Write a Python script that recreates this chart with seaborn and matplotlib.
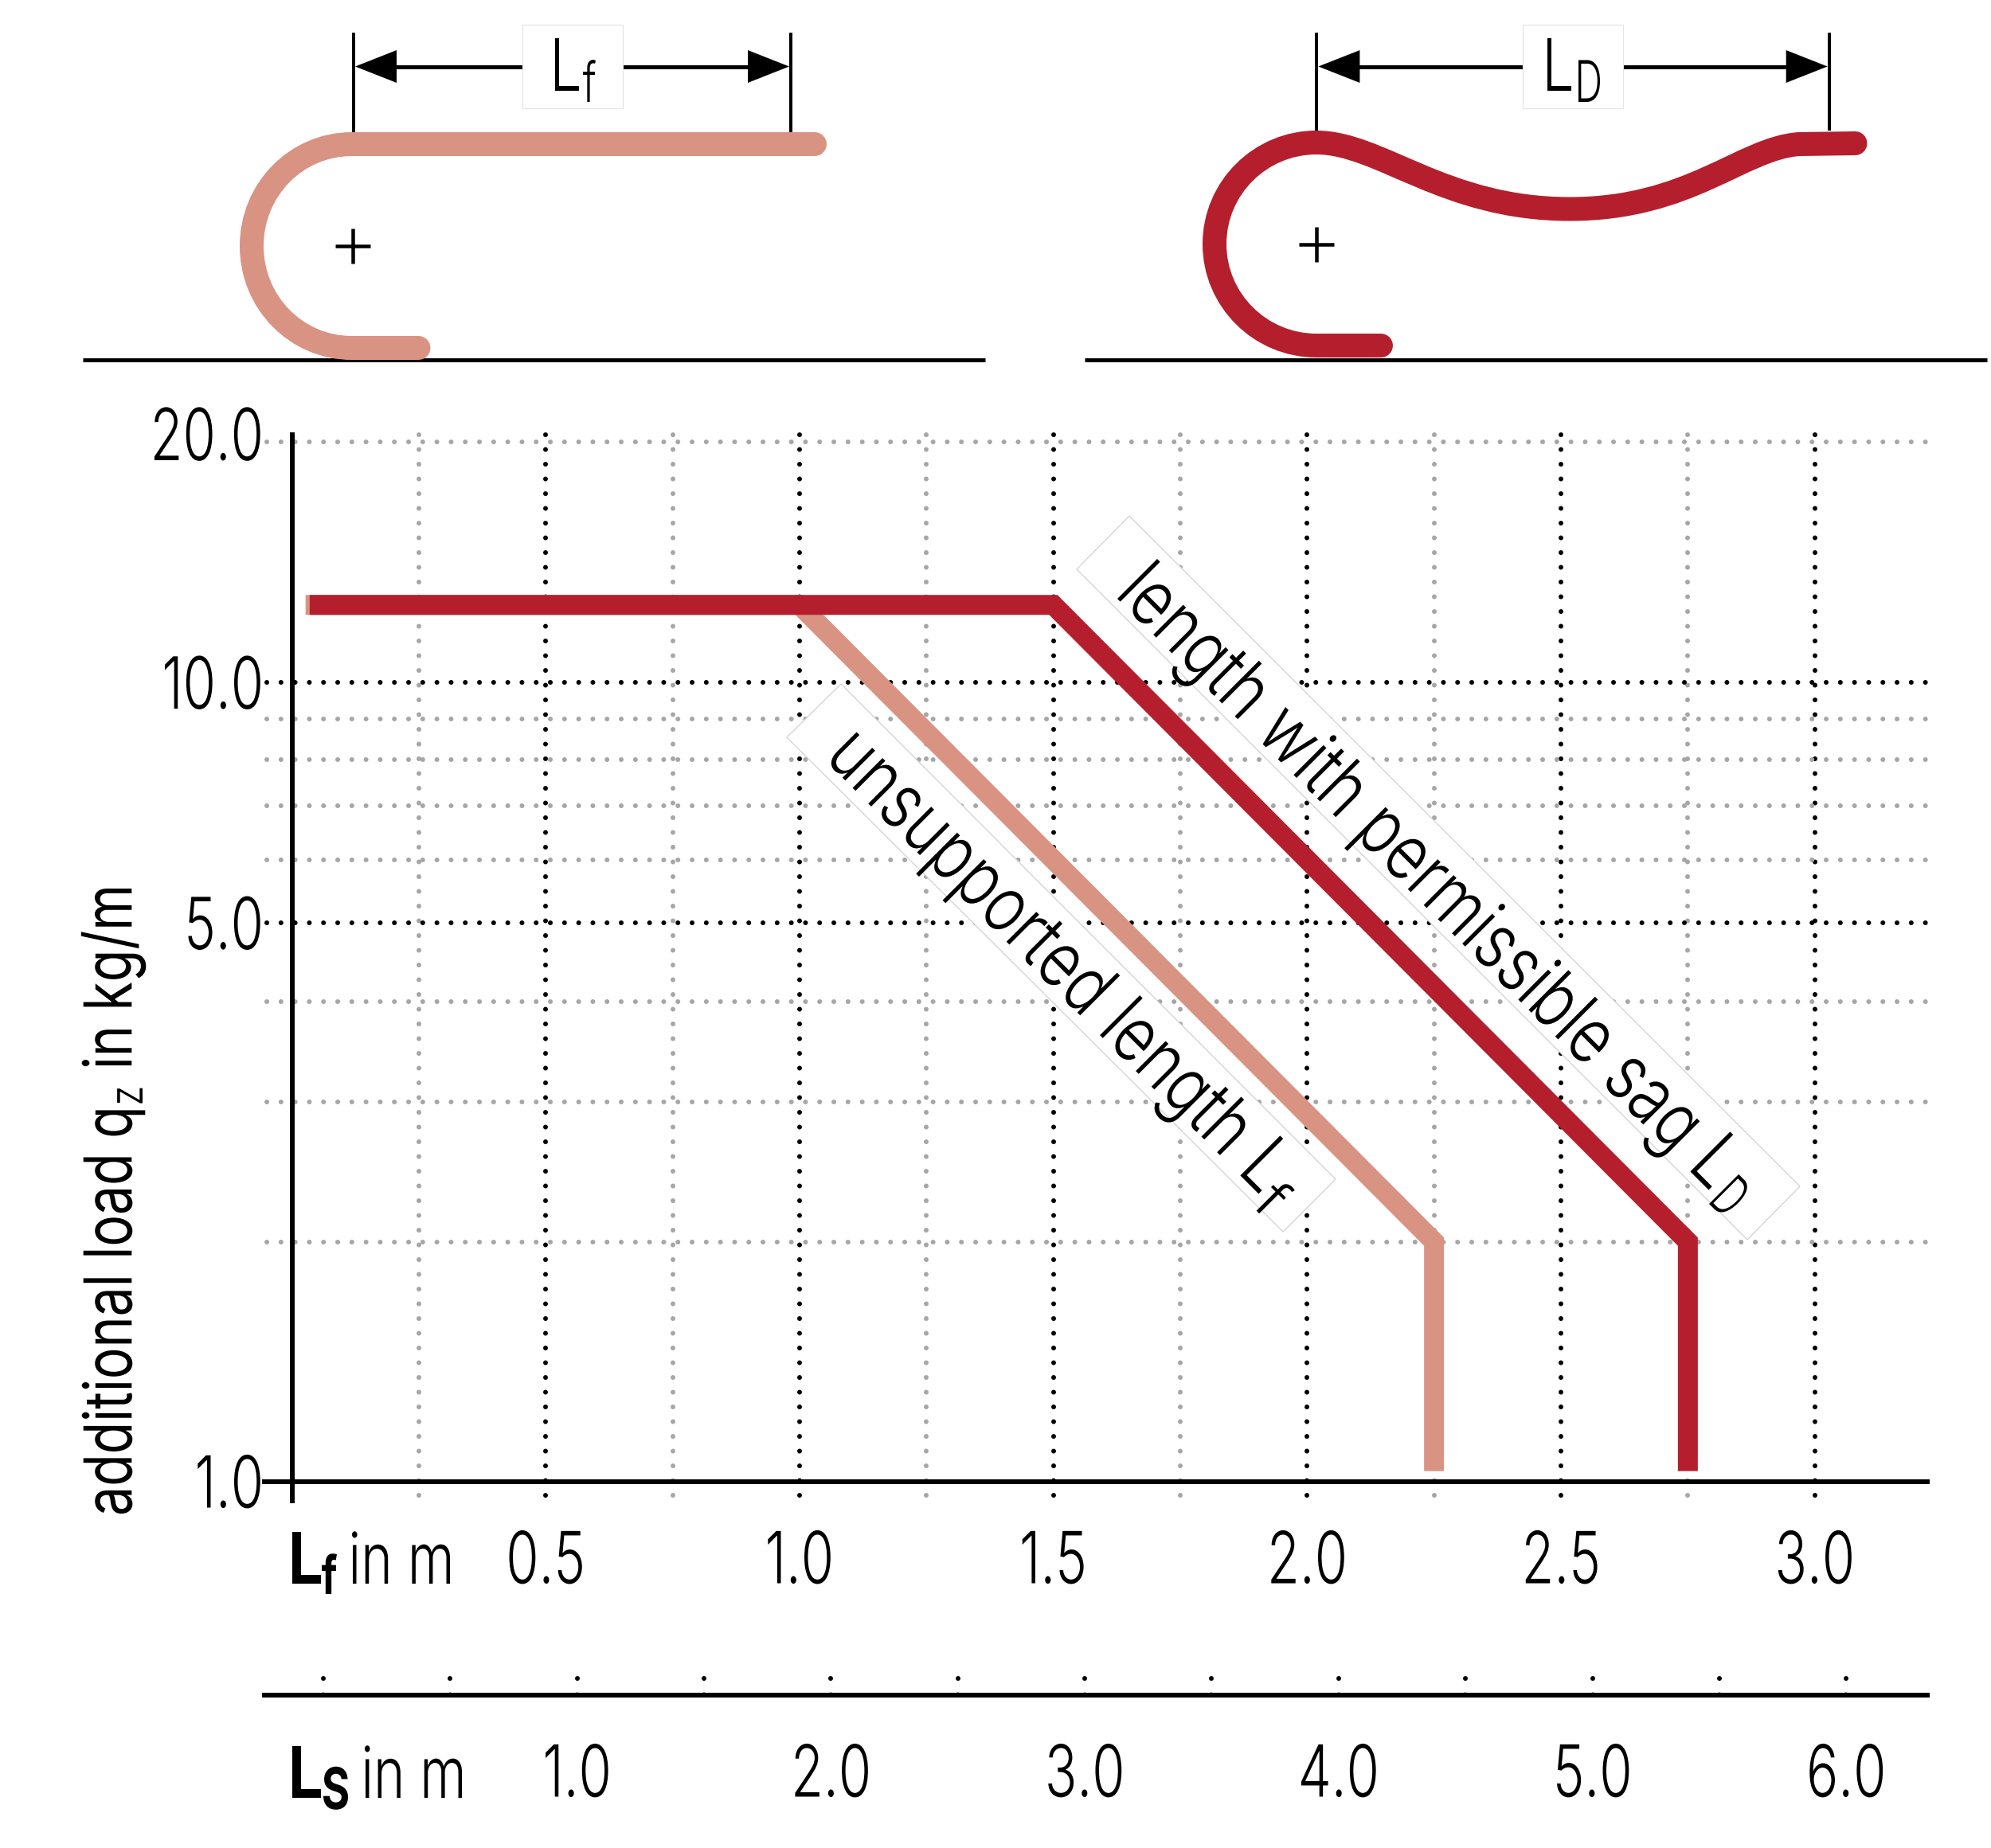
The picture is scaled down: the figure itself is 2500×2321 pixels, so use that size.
import math
import matplotlib
matplotlib.use("Agg")
import matplotlib.pyplot as plt
from matplotlib.patches import PathPatch, Polygon, Rectangle
from matplotlib.path import Path
from matplotlib.patheffects import AbstractPathEffect
from matplotlib.transforms import Affine2D, ScaledTranslation
import pandas as pd
import seaborn as sns

# ---------- chart data ----------
lf_x = [0.027, 1.0, 2.25, 2.25]
lf_y = [12.5, 12.5, 1.995, 1.03]
ld_x = [0.035, 1.5, 2.75, 2.75]
ld_y = [12.5, 12.5, 1.995, 1.03]
y_ticks = [1, 5, 10, 20]
y_tick_labels = ["1.0", "5.0", "10.0", "20.0"]
x_ticks = [0.5, 1.0, 1.5, 2.0, 2.5, 3.0]
x_tick_labels = ["0.5", "1.0", "1.5", "2.0", "2.5", "3.0"]
x_grid_major = [0.5, 1.0, 1.5, 2.0, 2.5, 3.0]
x_grid_minor = [0.25, 0.75, 1.25, 1.75, 2.25, 2.75]
y_grid_major = [10, 5]
y_grid_minor = [20, 9, 8, 7, 6, 3.985, 2.985, 1.995]
ls_ticks = [1.0, 2.0, 3.0, 4.0, 5.0, 6.0]
ls_tick_labels = ["1.0", "2.0", "3.0", "4.0", "5.0", "6.0"]
ls_dots = [0.0, 0.5, 1.0, 1.5, 2.0, 2.5, 3.0, 3.5, 4.0, 4.5, 5.0, 5.5, 6.0]

LIGHT = "#D99383"
DARK = "#B51F2D"
GREY = "#A6A6A6"

W, H, DPI = 2500, 2321, 100
def px(v):
    return v * 72 / DPI

# ---------- squeezed text (installed fonts have no condensed cut) ----------
class Squeeze(AbstractPathEffect):
    def __init__(self, sx=None, width=None, origin=0.0, shift=0.0):
        super().__init__()
        self.sx, self.width, self.origin, self.shift = sx, width, origin, shift

    def draw_path(self, renderer, gc, tpath, affine, rgbFace=None):
        if len(tpath.vertices) == 0:
            return
        ext = tpath.get_extents()
        m = affine.get_matrix()
        scale = math.hypot(m[0, 0], m[1, 0])
        sx = self.sx if self.sx else self.width / (ext.width * scale)
        if self.origin == 0:
            t = Affine2D().translate(-ext.x0, 0).scale(sx, 1)
        else:
            ox = ext.x1 if self.origin == 1 else (ext.x0 + ext.x1) / 2
            t = Affine2D().translate(-ox, 0).scale(sx, 1).translate(ox, 0)
        t = t.translate(self.shift / scale, 0) + affine
        renderer.draw_path(gc, tpath, t, rgbFace)

sns.set_theme(style="white", rc={"axes.facecolor": "none", "figure.facecolor": "white"})
plt.rcParams["font.family"] = ["Inter", "DejaVu Sans"]
plt.rcParams["font.weight"] = 300
plt.rcParams["mathtext.fontset"] = "custom"
plt.rcParams["mathtext.rm"] = "Inter:weight=300"
plt.rcParams["mathtext.default"] = "rm"

fig = plt.figure(figsize=(W / DPI, H / DPI), dpi=DPI)

def axes_px(x0, x1, y_top, y_bot, **kw):
    return fig.add_axes([x0 / W, 1 - y_bot / H, (x1 - x0) / W, (y_bot - y_top) / H], **kw)

# pixel-space layer for the sketches and free labels
over = axes_px(0, W, 0, H, zorder=5)
over.set_xlim(0, W)
over.set_ylim(H, 0)
over.axis("off")

# ---------- main chart ----------
X0_PX, X_PER_UNIT = 366.5, 637.4
Y1_PX, DECADE_PX = 1860.5, 1003.5
L, R, T, B = 335, 2421, 546, 1885
ax = axes_px(L, R, T, B, zorder=2)
ax.set_yscale("log")
ax.set_xlim((L - X0_PX) / X_PER_UNIT, (R - X0_PX) / X_PER_UNIT)
ax.set_ylim(10 ** ((Y1_PX - B) / DECADE_PX), 10 ** ((Y1_PX - T) / DECADE_PX))

def dotted(a, xs, ys, color, size, gap):
    a.plot(xs, ys, color=color, lw=px(size), linestyle=(0, (0.01, gap / size - 0.01)),
           dash_capstyle="round", clip_on=False, zorder=1)

ymin, ymax = ax.get_ylim()
xmin, xmax = ax.get_xlim()
for v in x_grid_minor:
    dotted(ax, [v, v], [ymax, ymin], GREY, 6, 18.5)
for v in x_grid_major:
    dotted(ax, [v, v], [ymax, ymin], "black", 6, 18.5)
for v in y_grid_minor:
    dotted(ax, [xmin, xmax], [v, v], GREY, 6, 17.8)
for v in y_grid_major:
    dotted(ax, [xmin, xmax], [v, v], "black", 6, 17.8)

# white label boxes, between grid and curves
box_edge = "#D0D0D0"
for corners in ([(1418, 648), (1352, 715), (2194, 1557), (2260, 1490)],
                [(1056, 859), (988, 926), (1611, 1547), (1677, 1481)]):
    ax.add_patch(Polygon(corners, closed=True, facecolor="white", edgecolor=box_edge,
                         lw=px(1.2), transform=over.transData, clip_on=False, zorder=2))

curves = pd.DataFrame({"x": lf_x, "y": lf_y})
sns.lineplot(data=curves, x="x", y="y", sort=False, estimator=None, ax=ax, color=LIGHT,
             lw=px(25), solid_capstyle="butt", solid_joinstyle="miter", zorder=3)
curves = pd.DataFrame({"x": ld_x, "y": ld_y})
sns.lineplot(data=curves, x="x", y="y", sort=False, estimator=None, ax=ax, color=DARK,
             lw=px(25), solid_capstyle="butt", solid_joinstyle="miter", zorder=4)

for s in ("top", "right"):
    ax.spines[s].set_visible(False)
ax.spines["left"].set_position(("data", 0))
ax.spines["bottom"].set_position(("data", 1))
for s in ("left", "bottom"):
    ax.spines[s].set_linewidth(px(6))
    ax.spines[s].set_color("black")
    ax.spines[s].set_zorder(6)
ax.spines["bottom"].set_bounds((332 - X0_PX) / X_PER_UNIT, (2420 - X0_PX) / X_PER_UNIT)

TICK_SIZE = 65
TICK_SQUEEZE = 0.74
ax.set_xticks(x_ticks, x_tick_labels)
ax.set_yticks(y_ticks, y_tick_labels)
ax.minorticks_off()
ax.tick_params(axis="x", length=0, pad=px(62), labelsize=TICK_SIZE, labelcolor="black")
ax.tick_params(axis="y", length=0, pad=px(34), labelsize=TICK_SIZE, labelcolor="black")
ax.tick_params(which="minor", length=0)
for lab in ax.get_xticklabels():
    lab.set_path_effects([Squeeze(sx=TICK_SQUEEZE, origin=0.5)])
for lab in ax.get_yticklabels():
    lab.set_path_effects([Squeeze(sx=TICK_SQUEEZE, origin=1)])
    if lab.get_text() == "20.0":
        lab.set_transform(lab.get_transform() + ScaledTranslation(0, 10 / DPI, fig.dpi_scale_trans))

ax.set_xlabel("")
ax.set_ylabel(r"additional load q$_{\mathrm{z}}$ in kg/m", fontsize=60, color="black",
              ha="left", va="baseline", rotation=90, rotation_mode="anchor",
              path_effects=[Squeeze(width=785)])
ax.yaxis.set_label_coords(166, 1901, transform=over.transData)

# ---------- second length scale ----------
LS0_PX, LS_PER_UNIT = 406.0, 318.7
ax2 = axes_px(332, 2420, 2108, 2149, zorder=2)
ax2.set_xlim((332 - LS0_PX) / LS_PER_UNIT, (2420 - LS0_PX) / LS_PER_UNIT)
ax2.set_ylim(0, 1)
for v in ls_dots:
    dotted(ax2, [v, v], [1, 0], "black", 6, 20.5)
for s in ("top", "right", "left"):
    ax2.spines[s].set_visible(False)
ax2.spines["bottom"].set_position(("axes", 0.5))
ax2.spines["bottom"].set_linewidth(px(6))
ax2.spines["bottom"].set_color("black")
ax2.spines["bottom"].set_zorder(6)
ax2.set_yticks([])
ax2.set_xticks(ls_ticks, ls_tick_labels)
ax2.tick_params(axis="x", length=0, pad=px(62), labelsize=TICK_SIZE, labelcolor="black")
for lab in ax2.get_xticklabels():
    lab.set_path_effects([Squeeze(sx=TICK_SQUEEZE, origin=0.5)])

# ---------- free text ----------
def label(x, y, s, size, width, weight=300, rotation=0, ha="left", shift=0.0):
    over.text(x, y, s, fontsize=size, weight=weight, color="black", ha=ha, va="baseline",
              rotation=rotation, rotation_mode="anchor", zorder=4,
              path_effects=[Squeeze(width=width, origin=1 if ha == "right" else 0, shift=shift)])

label(402, 1989, "L", 64, 36, weight=700, ha="right", shift=4)
label(404, 2002, "f", 48, 19, weight=700)
label(442, 1989, "in m", 64, 123)
label(402, 2258, "L", 64, 36, weight=700, ha="right", shift=4)
label(406, 2272, "S", 52, 31, weight=700)
label(458, 2258, "in m", 64, 122)
label(1403, 752, "length with permissible sag L", 70, 1050, rotation=-45)
label(2146, 1512, "D", 52, 25, rotation=-45)
label(1038, 957, "unsupported length L", 70, 767, rotation=-45)
label(1572, 1515, "f", 50, 24, rotation=-45)

# ---------- sketches ----------
K = 0.5523 * 127.5
hook_light = [(525.5, 437), (442, 437), (442 - K, 437), (316, 309 + K), (316, 309),
              (316, 309 - K), (442 - K, 181), (442, 181), (1023, 181)]
hook_light_codes = [Path.MOVETO, Path.LINETO, Path.CURVE4, Path.CURVE4, Path.CURVE4,
                    Path.CURVE4, Path.CURVE4, Path.CURVE4, Path.LINETO]
hook_dark = [(1734, 434), (1653, 434), (1653 - K, 434), (1525, 306.5 + K), (1525, 306.5),
             (1525, 306.5 - K), (1653 - K, 179), (1653, 179),
             (1733, 179), (1813, 262.5), (1971, 262.5),
             (2122, 262.5), (2187, 186), (2259, 181), (2329.5, 180)]
hook_dark_codes = [Path.MOVETO, Path.LINETO, Path.CURVE4, Path.CURVE4, Path.CURVE4,
                   Path.CURVE4, Path.CURVE4, Path.CURVE4,
                   Path.CURVE4, Path.CURVE4, Path.CURVE4,
                   Path.CURVE4, Path.CURVE4, Path.CURVE4, Path.LINETO]

over.plot([104, 1236.5], [452, 452], color="black", lw=px(5), solid_capstyle="butt", zorder=1)
over.plot([1361.6, 2495], [452, 452], color="black", lw=px(5), solid_capstyle="butt", zorder=1)
for verts, codes, col in ((hook_light, hook_light_codes, LIGHT), (hook_dark, hook_dark_codes, DARK)):
    over.add_patch(PathPatch(Path(verts, codes), facecolor="none", edgecolor=col, lw=px(30),
                             capstyle="round", joinstyle="round", zorder=2))

over.plot([442.5], [309], marker="+", ms=px(44), mew=px(4.5), color="black", zorder=3)
over.plot([1652.6], [306.5], marker="+", ms=px(44), mew=px(4.5), color="black", zorder=3)

for xa, xb, tops, box in ((444, 993, 166, (656, 782)), (1653.4, 2296.7, 164, (1911.7, 2038.4))):
    for xv in (xa, xb):
        over.plot([xv, xv], [41, tops], color="black", lw=px(4), solid_capstyle="butt", zorder=1)
    over.plot([xa + 40, xb - 40], [83.5, 83.5], color="black", lw=px(5), solid_capstyle="butt", zorder=1)
    over.add_patch(Polygon([(xa + 2, 83.5), (xa + 54, 63), (xa + 54, 104)], closed=True,
                           facecolor="black", edgecolor="none", zorder=2))
    over.add_patch(Polygon([(xb - 2, 83.5), (xb - 54, 63), (xb - 54, 104)], closed=True,
                           facecolor="black", edgecolor="none", zorder=2))
    over.add_patch(Rectangle((box[0], 31), box[1] - box[0], 105, facecolor="white",
                             edgecolor="#E4E4E4", lw=px(1.2), zorder=3))

label(727.5, 114, "L", 65, 30, ha="right", shift=4)
label(732, 128, "f", 50, 16)
label(1973.6, 114, "L", 65, 30, ha="right", shift=4)
label(1982, 128, "D", 52, 27)

fig.savefig("out.png", dpi=DPI, facecolor="white")
